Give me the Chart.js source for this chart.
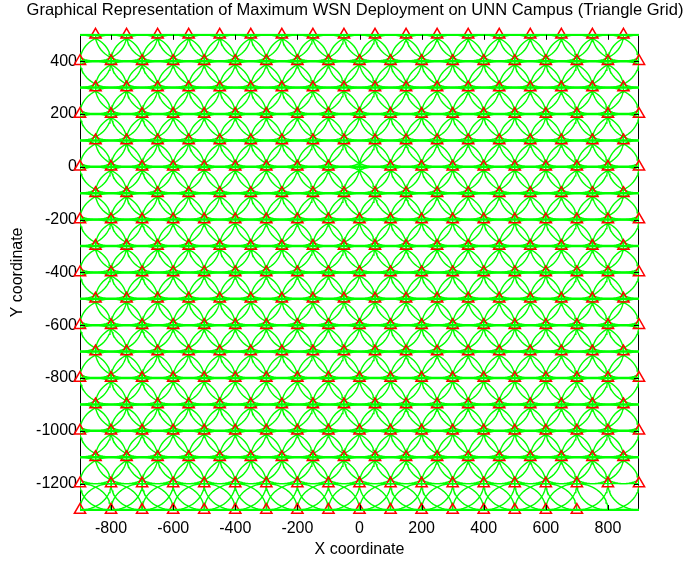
<!DOCTYPE html>
<html>
<head>
<meta charset="utf-8">
<title>WSN Deployment - Triangle Grid</title>
<script src="https://cdn.jsdelivr.net/npm/chart.js@4.4.1/dist/chart.umd.min.js"></script>
<style>
    html, body { margin: 0; padding: 0; background: #fff; }
    #wrap { width: 689px; height: 562px; }
</style>
</head>
<body>
<div id="wrap"><canvas id="wsnChart" width="689" height="562"></canvas></div>
<script>
// --- data ---
const rowY = [500, 400, 300, 200, 100, 0, -100, -200, -300, -400, -500, -600, -700, -800, -900, -1000, -1100, -1200, -1300];
// which x-set each row uses (A = aligned to the edges, B = shifted half a step, C = short bottom row)
const rowKind = ['B', 'A', 'B', 'A', 'B', 'A', 'B', 'A', 'B', 'A', 'B', 'A', 'B', 'A', 'B', 'A', 'B', 'A', 'C'];
const nodeXA = [-900, -800, -700, -600, -500, -400, -300, -200, -100, 0, 100, 200, 300, 400, 500, 600, 700, 800, 900];
const nodeXB = [-850, -750, -650, -550, -450, -350, -250, -150, -50, 50, 150, 250, 350, 450, 550, 650, 750, 850];
const nodeXC = [-900, -800, -700, -600, -500, -400, -300, -200, -100, 0, 100, 200, 300, 400, 500, 600, 700];
const sensingRadius = 100;
const sinkNode = { x: 0, y: 0 };

const xRange = [-900, 900];
const yRange = [-1300, 500];
const xTickValues = [-800, -600, -400, -200, 0, 200, 400, 600, 800];
const yTickValues = [-1200, -1000, -800, -600, -400, -200, 0, 200, 400];

const FONT = "'Liberation Sans', Arial, Helvetica, sans-serif";
const GREEN = '#00ff00';
const CIRCLE_STEPS = 72;
const TICK_LEN = 5;

// nodes
const xSets = { A: nodeXA, B: nodeXB, C: nodeXC };
const nodes = [];
rowY.forEach((y, i) => {
    xSets[rowKind[i]].forEach(x => nodes.push({ x, y }));
});

// coverage circles, one gapped path
const circlePts = [];
nodes.forEach(n => {
    for (let k = 0; k <= CIRCLE_STEPS; k++) {
        const t = (k / CIRCLE_STEPS) * 2 * Math.PI;
        circlePts.push({ x: n.x + sensingRadius * Math.cos(t), y: n.y + sensingRadius * Math.sin(t) });
    }
    circlePts.push({ x: null, y: null });
});

// horizontal row links
const rowLinesThick = [];
const rowLinesThin = [];
rowY.forEach(y => {
    const target = (y === -1200) ? rowLinesThin : rowLinesThick;
    target.push({ x: xRange[0], y }, { x: xRange[1], y }, { x: null, y: null });
});

const sensorPts = nodes.filter(n => !(n.x === sinkNode.x && n.y === sinkNode.y));

// frame + inward ticks (MATLAB look)
const framePlugin = {
    id: 'frame',
    beforeDatasetsDraw(chart) {
        const { ctx, chartArea: a } = chart;
        ctx.save();
        ctx.strokeStyle = '#000';
        ctx.lineWidth = 1;
        ctx.strokeRect(Math.round(a.left) + 0.5, Math.round(a.top) + 0.5,
            Math.round(a.right - a.left) - 1, Math.round(a.bottom - a.top));
        ctx.restore();
    },
    afterDatasetsDraw(chart) {
        const { ctx, chartArea: a, scales: { x, y } } = chart;
        ctx.save();
        ctx.strokeStyle = '#000';
        ctx.lineWidth = 1;
        ctx.beginPath();
        xTickValues.forEach(v => {
            const px = Math.round(x.getPixelForValue(v)) + 0.5;
            ctx.moveTo(px, a.bottom); ctx.lineTo(px, a.bottom - TICK_LEN);
            ctx.moveTo(px, a.top); ctx.lineTo(px, a.top + TICK_LEN);
        });
        yTickValues.forEach(v => {
            const py = Math.round(y.getPixelForValue(v)) + 0.5;
            ctx.moveTo(a.left, py); ctx.lineTo(a.left + TICK_LEN, py);
            ctx.moveTo(a.right, py); ctx.lineTo(a.right - TICK_LEN, py);
        });
        ctx.stroke();
        ctx.restore();
    }
};

// first dataset is painted last (on top)
const ctx = document.getElementById('wsnChart');
new Chart(ctx, {
    type: 'line',
    data: {
        datasets: [
            {
                label: 'Sink',
                data: [sinkNode],
                showLine: false,
                pointStyle: 'star',
                pointRadius: 4,
                pointBorderColor: GREEN,
                pointBorderWidth: 1,
                clip: false
            },
            {
                label: 'Rows',
                data: rowLinesThick,
                borderColor: GREEN,
                borderWidth: 2.5,
                pointRadius: 0,
                spanGaps: false,
                clip: 1
            },
            {
                label: 'Row thin',
                data: rowLinesThin,
                borderColor: GREEN,
                borderWidth: 1.2,
                pointRadius: 0,
                spanGaps: false,
                clip: 0
            },
            {
                label: 'Sensors',
                data: sensorPts,
                showLine: false,
                pointStyle: 'triangle',
                pointRadius: 6.5,
                pointBorderColor: '#ff0000',
                pointBackgroundColor: 'rgba(0,0,0,0)',
                pointBorderWidth: 1.5,
                clip: false
            },
            {
                label: 'Coverage',
                data: circlePts,
                borderColor: GREEN,
                borderWidth: 1.4,
                pointRadius: 0,
                tension: 0,
                spanGaps: false,
                clip: 0
            }
        ]
    },
    options: {
        responsive: false,
        animation: false,
        events: [],
        layout: { padding: { left: 21, right: 0, top: 0, bottom: 0 } },
        plugins: {
            legend: { display: false },
            tooltip: { enabled: false },
            title: {
                display: true,
                text: 'Graphical Representation of Maximum WSN Deployment on UNN Campus (Triangle Grid)',
                color: '#000',
                font: { family: FONT, size: 16.5, weight: 'normal' },
                padding: { top: 1, bottom: 14 }
            }
        },
        scales: {
            x: {
                type: 'linear',
                min: xRange[0],
                max: xRange[1],
                afterBuildTicks: s => { s.ticks = xTickValues.map(v => ({ value: v })); },
                afterFit: s => { s.height = 52; },
                grid: { display: false, drawTicks: false },
                border: { display: false },
                ticks: {
                    color: '#000',
                    padding: 9,
                    maxRotation: 0,
                    autoSkip: false,
                    font: { family: FONT, size: 16 },
                    callback: v => String(v)
                },
                title: {
                    display: true,
                    text: 'X coordinate',
                    color: '#000',
                    font: { family: FONT, size: 16 },
                    padding: { top: 0, bottom: 2.5 }
                }
            },
            y: {
                type: 'linear',
                position: 'left',
                min: yRange[0],
                max: yRange[1],
                afterBuildTicks: s => { s.ticks = yTickValues.map(v => ({ value: v })); },
                afterFit: s => { s.width = 59; },
                grid: { display: false, drawTicks: false },
                border: { display: false },
                ticks: {
                    color: '#000',
                    padding: 3,
                    autoSkip: false,
                    font: { family: FONT, size: 16 },
                    callback: v => String(v)
                },
                title: {
                    display: true,
                    text: 'Y coordinate',
                    color: '#000',
                    font: { family: FONT, size: 16 },
                    padding: { top: -13, bottom: 0 }
                }
            },
            yRight: {
                type: 'linear',
                position: 'right',
                min: yRange[0],
                max: yRange[1],
                afterFit: s => { s.width = 50; },
                grid: { display: false },
                border: { display: false },
                ticks: { display: false }
            }
        }
    },
    plugins: [framePlugin]
});
</script>
</body>
</html>
